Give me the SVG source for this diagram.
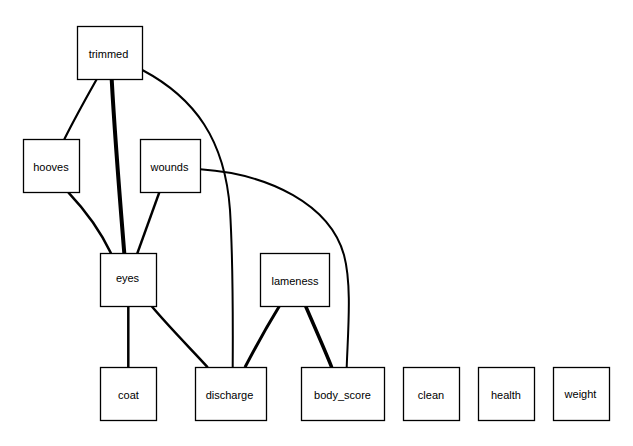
<svg xmlns="http://www.w3.org/2000/svg" width="633" height="446" viewBox="0 0 633 446">
<style>
.node rect{fill:#fff;stroke:#000;stroke-width:1.3}
.node text{font-family:"Liberation Sans",Arial,sans-serif;font-size:11px;fill:#000;text-anchor:middle}
.edges path{fill:none;stroke:#000;stroke-linecap:butt}
</style>
<rect x="0" y="0" width="633" height="446" fill="#fff"/>
<g class="edges">
<path d="M96.7,79.3 C85,100 75,118 64.3,139.3" stroke-width="2.2"/>
<path d="M111.7,79.3 C115,140 120,200 124.3,253.3" stroke-width="4"/>
<path d="M142.3,70 C195,98 225,140 230,210 C233,260 233,320 232.7,367.3" stroke-width="2"/>
<path d="M68.3,192.3 C85,210 100,230 111,253.3" stroke-width="2.5"/>
<path d="M159.3,192.3 C152,212 145,232 137.3,253.3" stroke-width="2.5"/>
<path d="M200.3,169.3 C270,174 330,205 344,255 C352,285 348,330 346.7,367.3" stroke-width="2"/>
<path d="M128.3,306.3 L128.3,367.3" stroke-width="2.5"/>
<path d="M151.7,306.3 C170,328 190,348 207.7,367.3" stroke-width="2.5"/>
<path d="M279.3,306.3 C266,328 255,348 245,367.3" stroke-width="3"/>
<path d="M305.7,306.3 C315,328 324,348 331.7,367.3" stroke-width="3.5"/>
</g>
<g id="trimmed" class="node"><rect x="77.5" y="26.5" width="65" height="53"/><text x="108.5" y="58">trimmed</text></g>
<g id="hooves" class="node"><rect x="23.5" y="139.5" width="56" height="53"/><text x="51" y="171">hooves</text></g>
<g id="wounds" class="node"><rect x="140.5" y="139.5" width="60" height="53"/><text x="169.5" y="171">wounds</text></g>
<g id="eyes" class="node"><rect x="100.5" y="253.5" width="56" height="53"/><text x="127.5" y="282">eyes</text></g>
<g id="lameness" class="node"><rect x="260.5" y="253.5" width="69" height="53"/><text x="295" y="284.5">lameness</text></g>
<g id="coat" class="node"><rect x="100.5" y="367.5" width="56" height="53"/><text x="128.5" y="399">coat</text></g>
<g id="discharge" class="node"><rect x="195.5" y="367.5" width="71" height="53"/><text x="229.5" y="399">discharge</text></g>
<g id="body_score" class="node"><rect x="301.5" y="367.5" width="83" height="53"/><text x="342.5" y="399">body_score</text></g>
<g id="clean" class="node"><rect x="403.5" y="367.5" width="56" height="53"/><text x="431" y="399">clean</text></g>
<g id="health" class="node"><rect x="478.5" y="367.5" width="56" height="53"/><text x="506" y="399">health</text></g>
<g id="weight" class="node"><rect x="553.5" y="367.5" width="56" height="53"/><text x="580.5" y="398">weight</text></g>
</svg>
